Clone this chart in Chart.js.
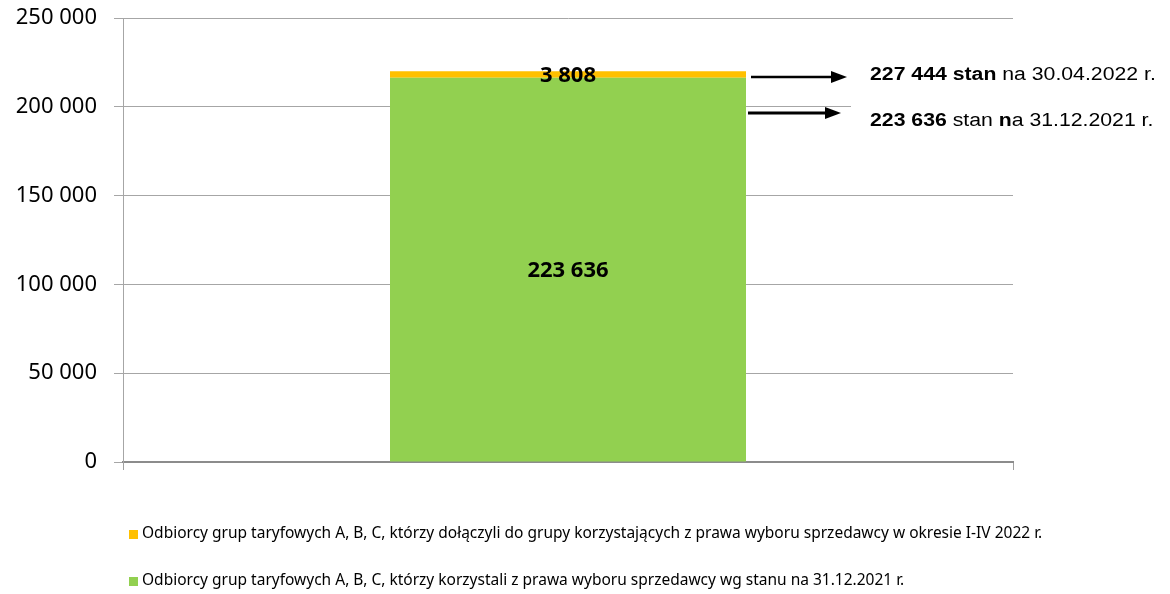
<!DOCTYPE html>
<html>
<head>
<meta charset="utf-8">
<script src="https://cdn.jsdelivr.net/npm/chart.js@4.4.1/dist/chart.umd.min.js"></script>
<style>
html, body { margin: 0; padding: 0; background: #fff; }
</style>
</head>
<body>
<canvas id="chart" width="1170" height="594"></canvas>
<script>
// values (bar heights as drawn) and the printed labels
var categories = [''];
var baseCustomers = [216300];
var newCustomers = [3700];
var baseLabels = ['223 636'];
var newLabels = ['3 808'];
var seriesNames = [
    'Odbiorcy grup taryfowych A, B, C, którzy korzystali z prawa wyboru sprzedawcy wg stanu na 31.12.2021 r.',
    'Odbiorcy grup taryfowych A, B, C, którzy dołączyli do grupy korzystających z prawa wyboru sprzedawcy w okresie I-IV 2022 r.'
];
var seriesColors = ['#92D050', '#FFC000'];
var yTicks = [0, 50000, 100000, 150000, 200000, 250000];
// side notes: [text, bold]
var notes = [
    [['227 444 stan', true], [' na 30.04.2022 r.', false]],
    [['223 636', true], [' stan ', false], ['n', true], ['a 31.12.2021 r.', false]]
];

function fmt(v) {
    return String(v).replace(/\B(?=(\d{3})+(?!\d))/g, ' ');
}

var extras = {
    id: 'extras',
    afterDraw: function (chart) {
        var ctx = chart.ctx;
        ctx.save();

        // value labels in the bar segments
        var labels = [baseLabels, newLabels];
        ctx.fillStyle = '#000';
        ctx.font = 'bold 22px "Noto Sans"';
        ctx.textAlign = 'center';
        ctx.textBaseline = 'middle';
        for (var d = 0; d < 2; d++) {
            var bar = chart.getDatasetMeta(d).data[0];
            ctx.fillText(labels[d][0], bar.x, (bar.y + bar.base) / 2 + 1);
        }

        // white text box hiding the grid behind the second note
        ctx.fillStyle = '#fff';
        ctx.fillRect(851, 98, 162, 40);

        // arrows
        function arrow(x1, x2, y, w) {
            ctx.strokeStyle = '#000';
            ctx.lineWidth = w;
            ctx.beginPath();
            ctx.moveTo(x1, y);
            ctx.lineTo(x2 - 14, y);
            ctx.stroke();
            ctx.fillStyle = '#000';
            ctx.beginPath();
            ctx.moveTo(x2 - 16, y - 6);
            ctx.lineTo(x2, y);
            ctx.lineTo(x2 - 16, y + 6);
            ctx.closePath();
            ctx.fill();
        }
        arrow(751, 847, 77, 2.5);
        arrow(748, 841, 113, 3);

        // notes (slightly stretched, as in the source)
        ctx.textAlign = 'left';
        ctx.fillStyle = '#000';
        var noteY = [75, 121];
        for (var n = 0; n < notes.length; n++) {
            ctx.save();
            ctx.translate(870, noteY[n]);
            ctx.scale(1.18, 1);
            var x = 0;
            for (var p = 0; p < notes[n].length; p++) {
                ctx.font = (notes[n][p][1] ? 'bold ' : '') + '18px "Liberation Sans"';
                ctx.fillText(notes[n][p][0], x, 0);
                x += ctx.measureText(notes[n][p][0]).width;
            }
            ctx.restore();
        }

        // legend, newest series first
        var rows = [1, 0];
        var rowY = [534, 581];
        ctx.font = '15.5px "Noto Sans"';
        for (var r = 0; r < rows.length; r++) {
            ctx.fillStyle = seriesColors[rows[r]];
            ctx.fillRect(129, rowY[r] - 4, 9, 9);
            ctx.fillStyle = '#000';
            ctx.fillText(seriesNames[rows[r]], 142, rowY[r]);
        }
        ctx.restore();
    }
};

var ctx = document.getElementById('chart').getContext('2d');
var myChart = new Chart(ctx, {
    type: 'bar',
    data: {
        labels: categories,
        datasets: [{
            label: seriesNames[0],
            data: baseCustomers,
            backgroundColor: seriesColors[0]
        }, {
            label: seriesNames[1],
            data: newCustomers,
            backgroundColor: seriesColors[1]
        }]
    },
    options: {
        responsive: false,
        animation: false,
        devicePixelRatio: 1,
        categoryPercentage: 0.4,
        barPercentage: 1,
        layout: { padding: { left: 0, right: 157, top: 18, bottom: 124 } },
        plugins: {
            legend: { display: false },
            tooltip: { enabled: false }
        },
        scales: {
            x: {
                stacked: true,
                offset: true,
                grid: { drawOnChartArea: false, tickLength: 8, color: '#a0a0a0' },
                border: { color: '#8c8c8c', width: 2 },
                ticks: { display: false }
            },
            y: {
                stacked: true,
                min: yTicks[0],
                max: yTicks[yTicks.length - 1],
                afterBuildTicks: function (s) {
                    s.ticks = yTicks.map(function (v) { return { value: v }; });
                },
                afterFit: function (s) {
                    s.width = 123;
                    s.paddingTop = 12;
                    s.paddingBottom = 12;
                },
                ticks: {
                    padding: 17,
                    color: '#000',
                    font: { family: 'Noto Sans', size: 22 },
                    callback: function (v) { return fmt(v); }
                },
                grid: { color: '#a6a6a6', tickLength: 9 },
                border: { color: '#a6a6a6' }
            }
        }
    },
    plugins: [extras]
});
</script>
</body>
</html>
